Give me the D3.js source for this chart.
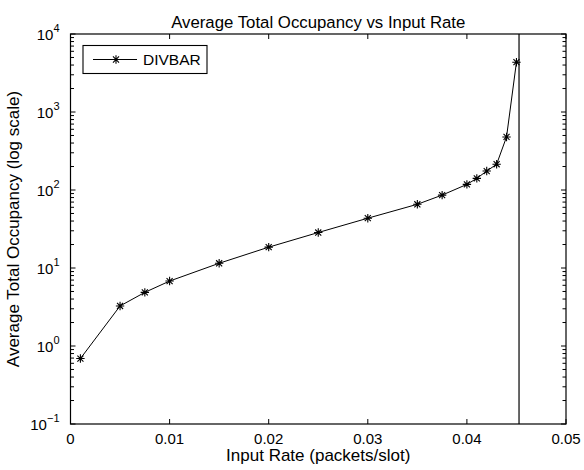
<!DOCTYPE html>
<html>
<head>
<meta charset="utf-8">
<script src="https://cdn.jsdelivr.net/npm/d3@7"></script>
<style>
  body { margin: 0; background: #fff; }
  text { font-family: "Liberation Sans", Arial, sans-serif; fill: #000; }
</style>
</head>
<body>
<div id="vis"></div>
<script>
const FRAME_WIDTH = 584;
const FRAME_HEIGHT = 470;
const MARGINS = {left: 70.5, right: 18, top: 34, bottom: 46};

const VIS_WIDTH = FRAME_WIDTH - MARGINS.left - MARGINS.right;
const VIS_HEIGHT = FRAME_HEIGHT - MARGINS.top - MARGINS.bottom;

// data
const inputRate = [0.001, 0.005, 0.0075, 0.01, 0.015, 0.02, 0.025, 0.03, 0.035,
                   0.0375, 0.04, 0.041, 0.042, 0.043, 0.044, 0.045];
const occupancy = [0.69, 3.26, 4.87, 6.8, 11.5, 18.5, 28.5, 43.5, 65.6,
                   86, 118, 141, 175, 214, 479, 4350];
const capacityLine = 0.04526;
const xTicks = [0, 0.01, 0.02, 0.03, 0.04, 0.05];
const xTickLabels = ["0", "0.01", "0.02", "0.03", "0.04", "0.05"];
const yExponents = [-1, 0, 1, 2, 3, 4];
const seriesName = "DIVBAR";

const FRAME = d3.select("#vis")
    .append("svg")
    .attr("width", FRAME_WIDTH)
    .attr("height", FRAME_HEIGHT);

const X_SCALE = d3.scaleLinear().domain([0, 0.05]).range([0, VIS_WIDTH]);
const Y_SCALE = d3.scaleLog().domain([0.1, 10000]).range([VIS_HEIGHT, 0]);

const g = FRAME.append("g")
    .attr("transform", "translate(" + MARGINS.left + "," + MARGINS.top + ")");

// minor log ticks 2..9 per decade
const minorTicks = [];
for (let e = -1; e < 4; e++) {
    for (let m = 2; m <= 9; m++) minorTicks.push(m * Math.pow(10, e));
}

const TICK = 5, MINOR = 3.5;

// x ticks bottom and top (inward)
xTicks.forEach(t => {
    const x = X_SCALE(t);
    g.append("line").attr("x1", x).attr("x2", x).attr("y1", VIS_HEIGHT).attr("y2", VIS_HEIGHT - TICK)
        .attr("stroke", "#000");
    g.append("line").attr("x1", x).attr("x2", x).attr("y1", 0).attr("y2", TICK)
        .attr("stroke", "#000");
});

// y ticks left and right
yExponents.forEach(e => {
    const y = Y_SCALE(Math.pow(10, e));
    g.append("line").attr("x1", 0).attr("x2", TICK).attr("y1", y).attr("y2", y).attr("stroke", "#000");
    g.append("line").attr("x1", VIS_WIDTH).attr("x2", VIS_WIDTH - TICK).attr("y1", y).attr("y2", y).attr("stroke", "#000");
});
minorTicks.forEach(v => {
    const y = Y_SCALE(v);
    g.append("line").attr("x1", 0).attr("x2", MINOR).attr("y1", y).attr("y2", y).attr("stroke", "#000");
    g.append("line").attr("x1", VIS_WIDTH).attr("x2", VIS_WIDTH - MINOR).attr("y1", y).attr("y2", y).attr("stroke", "#000");
});

// x tick labels
g.selectAll(".xlab")
    .data(xTicks)
    .enter()
    .append("text")
    .attr("x", d => X_SCALE(d))
    .attr("y", VIS_HEIGHT + 20)
    .attr("text-anchor", "middle")
    .style("font-size", "15px")
    .text((d, i) => xTickLabels[i]);

// y tick labels 10^e
yExponents.forEach(e => {
    const t = g.append("text")
        .attr("x", -11)
        .attr("y", Y_SCALE(Math.pow(10, e)) + 5.5)
        .attr("text-anchor", "end")
        .style("font-size", "15px");
    t.append("tspan").text("10");
    t.append("tspan").attr("dy", -8).style("font-size", "11px").text(e < 0 ? "\u2212" + (-e) : String(e));
});

// vertical line at capacity
g.append("line")
    .attr("x1", X_SCALE(capacityLine)).attr("x2", X_SCALE(capacityLine))
    .attr("y1", 0).attr("y2", VIS_HEIGHT)
    .attr("stroke", "#000").attr("stroke-width", 1.2);

// data line
const pts = inputRate.map((d, i) => [X_SCALE(d), Y_SCALE(occupancy[i])]);
g.append("path")
    .attr("d", d3.line()(pts))
    .attr("fill", "none")
    .attr("stroke", "#000")
    .attr("stroke-width", 1);

// asterisk markers
function star(x, y, r) {
    const d = r * 0.72;
    return "M" + (x - r) + "," + y + "H" + (x + r) +
           "M" + x + "," + (y - r) + "V" + (y + r) +
           "M" + (x - d) + "," + (y - d) + "L" + (x + d) + "," + (y + d) +
           "M" + (x - d) + "," + (y + d) + "L" + (x + d) + "," + (y - d);
}
g.selectAll(".pt")
    .data(pts)
    .enter()
    .append("path")
    .attr("d", d => star(d[0], d[1], 4.2))
    .attr("stroke", "#000")
    .attr("stroke-width", 1.1)
    .attr("fill", "none");

// axes box
g.append("rect")
    .attr("x", 0).attr("y", 0)
    .attr("width", VIS_WIDTH).attr("height", VIS_HEIGHT)
    .attr("fill", "none")
    .attr("stroke", "#000")
    .attr("stroke-width", 1.2);

// legend
const leg = g.append("g").attr("transform", "translate(12.5,11.5)");
leg.append("rect").attr("width", 124).attr("height", 28)
    .attr("fill", "#fff").attr("stroke", "#000").attr("stroke-width", 1.1);
leg.append("line").attr("x1", 10).attr("x2", 54).attr("y1", 14).attr("y2", 14)
    .attr("stroke", "#000");
leg.append("path").attr("d", star(33, 14, 4.2)).attr("stroke", "#000").attr("stroke-width", 1.1);
leg.append("text").attr("x", 60).attr("y", 19.5)
    .style("font-size", "15.5px").text(seriesName);

// title and axis labels
FRAME.append("text")
    .attr("x", MARGINS.left + VIS_WIDTH / 2)
    .attr("y", 28)
    .attr("text-anchor", "middle")
    .style("font-size", "16.8px")
    .text("Average Total Occupancy vs Input Rate");

FRAME.append("text")
    .attr("x", MARGINS.left + VIS_WIDTH / 2)
    .attr("y", 461)
    .attr("text-anchor", "middle")
    .style("font-size", "17px")
    .text("Input Rate (packets/slot)");

FRAME.append("text")
    .attr("transform", "translate(19," + (MARGINS.top + VIS_HEIGHT / 2) + ") rotate(-90)")
    .attr("text-anchor", "middle")
    .style("font-size", "17px")
    .text("Average Total Occupancy (log scale)");
</script>
</body>
</html>
